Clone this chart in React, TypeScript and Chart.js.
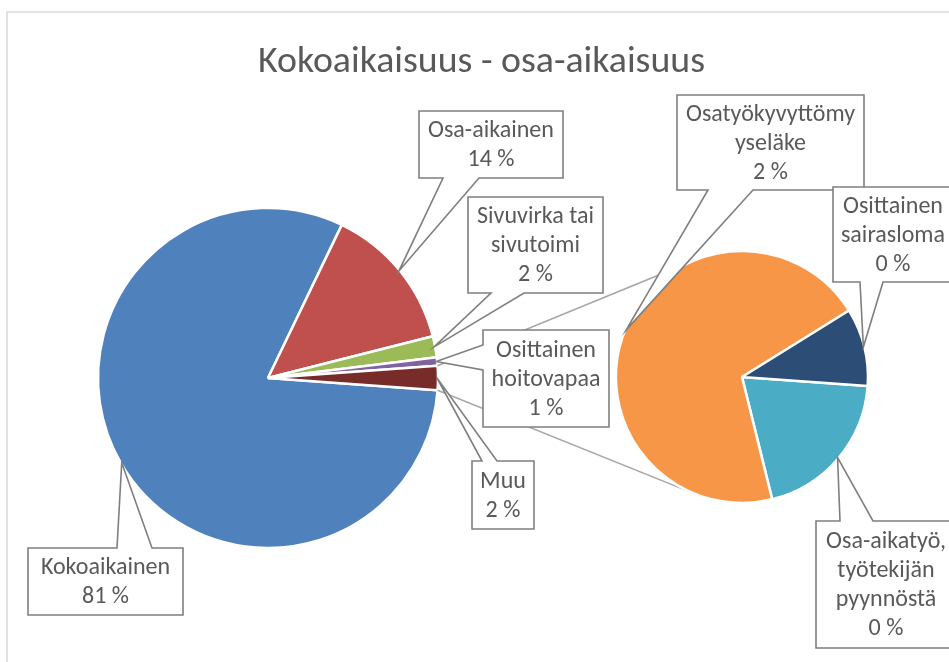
import React, { useEffect, useRef } from "react";
import { Chart, registerables } from "chart.js";

Chart.register(...registerables);

// ---------- data ----------
const TITLE = "Kokoaikaisuus - osa-aikaisuus";

const mainCategories = ["Kokoaikainen", "Osa-aikainen", "Sivuvirka tai sivutoimi", "Osittainen hoitovapaa"];
const mainValues = [81.0, 13.9, 2.0, 0.8];
const mainLabelLines = [["Kokoaikainen"], ["Osa-aikainen"], ["Sivuvirka tai", "sivutoimi"], ["Osittainen", "hoitovapaa"]];

const otherCategory = "Muu";
const otherLabelLines = ["Muu"];

const subCategories = ["Osa-aikatyö, työtekijän pyynnöstä", "Osatyökyvyttömyyseläke", "Osittainen sairasloma"];
const subValues = [0.46, 1.61, 0.23];
const subLabelLines = [["Osa-aikatyö,", "työtekijän", "pyynnöstä"], ["Osatyökyvyttömy", "yseläke"], ["Osittainen", "sairasloma"]];

const mainColors = ["#4F81BD", "#C0504D", "#9BBB59", "#8064A2", "#772C2A"];
const subColors = ["#4BACC6", "#F79646", "#2C4D75"];

// ---------- layout ----------
const W = 949;
const H = 662;
const MAIN_R = 170;
const SUB_R = 126;
const FONT = "Carlito, Calibri, Lato, 'Open Sans', sans-serif";
const TEXT_COLOR = "#595959";
const BOX_COLOR = "#7F7F7F";

type Box = { rect: [number, number, number, number]; side: "top" | "bottom" | "left" | "right"; base: [number, number] };

const mainBoxes: Box[] = [
  { rect: [28, 548, 183, 615], side: "top", base: [117, 152] },
  { rect: [419, 111, 563, 178], side: "bottom", base: [443, 479] },
  { rect: [468, 197, 603, 293], side: "bottom", base: [491, 524] },
  { rect: [483, 330, 609, 427], side: "left", base: [345, 370] },
  { rect: [472, 461, 534, 529], side: "top", base: [482, 497] },
];
const subBoxes: Box[] = [
  { rect: [816, 521, 956, 648], side: "top", base: [840, 873] },
  { rect: [677, 95, 864, 190], side: "bottom", base: [708, 753] },
  { rect: [833, 187, 953, 282], side: "bottom", base: [860, 883] },
];

const otherValue = subValues.reduce((a, b) => a + b, 0);
const total = mainValues.reduce((a, b) => a + b, 0) + otherValue;
const pct = (v: number) => `${Math.round((v / total) * 100)} %`;
const startRotation = 90 + (otherValue / total) * 180;

function drawCallout(ctx: CanvasRenderingContext2D, box: Box, tip: { x: number; y: number }, lines: string[], fontSize: number) {
  const [x1, y1, x2, y2] = box.rect;
  const [b1, b2] = box.base;
  ctx.save();
  ctx.beginPath();
  ctx.moveTo(x1, y1);
  if (box.side === "top") { ctx.lineTo(b1, y1); ctx.lineTo(tip.x, tip.y); ctx.lineTo(b2, y1); }
  ctx.lineTo(x2, y1);
  if (box.side === "right") { ctx.lineTo(x2, b1); ctx.lineTo(tip.x, tip.y); ctx.lineTo(x2, b2); }
  ctx.lineTo(x2, y2);
  if (box.side === "bottom") { ctx.lineTo(b2, y2); ctx.lineTo(tip.x, tip.y); ctx.lineTo(b1, y2); }
  ctx.lineTo(x1, y2);
  if (box.side === "left") { ctx.lineTo(x1, b2); ctx.lineTo(tip.x, tip.y); ctx.lineTo(x1, b1); }
  ctx.closePath();
  ctx.fillStyle = "#FFFFFF";
  ctx.fill();
  ctx.lineWidth = 1.6;
  ctx.strokeStyle = BOX_COLOR;
  ctx.lineJoin = "miter";
  ctx.stroke();
  ctx.fillStyle = TEXT_COLOR;
  ctx.font = `${fontSize}px ${FONT}`;
  ctx.textAlign = "center";
  ctx.textBaseline = "middle";
  const cx = (x1 + x2) / 2;
  const cy = (y1 + y2) / 2 + 1;
  const lh = 29;
  lines.forEach((t, i) => ctx.fillText(t, cx, cy + (i - (lines.length - 1) / 2) * lh));
  ctx.restore();
}

function arcTip(arc: any) {
  const mid = (arc.startAngle + arc.endAngle) / 2;
  const r = arc.outerRadius - 1;
  return { x: arc.x + Math.cos(mid) * r, y: arc.y + Math.sin(mid) * r };
}

export default function App() {
  const refA = useRef<HTMLCanvasElement>(null);
  const refB = useRef<HTMLCanvasElement>(null);

  useEffect(() => {
    const borderPlugin = {
      id: "chartBorder",
      beforeDraw(chart: any) {
        const ctx = chart.ctx;
        ctx.save();
        ctx.fillStyle = "#FFFFFF";
        ctx.fillRect(0, 0, W, H);
        ctx.strokeStyle = "#D9D9D9";
        ctx.lineWidth = 1.5;
        ctx.strokeRect(7, 12, 2000, 2000);
        ctx.restore();
      },
    };

    const chartA = new Chart(refA.current!, {
      type: "pie",
      data: {
        labels: [...mainCategories, otherCategory],
        datasets: [
          {
            data: [...mainValues, otherValue],
            backgroundColor: mainColors,
            borderColor: "#FFFFFF",
            borderWidth: 2.5,
          },
        ],
      },
      options: {
        responsive: false,
        animation: false,
        radius: MAIN_R,
        rotation: startRotation,
        layout: { padding: { left: 0, right: 413, top: 94, bottom: 0 } },
        events: [],
        plugins: { legend: { display: false }, tooltip: { enabled: false }, title: { display: false } },
      } as any,
      plugins: [borderPlugin],
    });

    const overlayPlugin = {
      id: "overlay",
      beforeDatasetsDraw(chart: any) {
        const ctx = chart.ctx;
        const metaA = chartA.getDatasetMeta(0);
        const other: any = metaA.data[metaA.data.length - 1];
        const sub: any = chart.getDatasetMeta(0).data[0];
        const C = { x: sub.x, y: sub.y };
        const r = sub.outerRadius;
        const corners = [other.startAngle, other.endAngle].map((a: number) => ({
          x: other.x + Math.cos(a) * other.outerRadius,
          y: other.y + Math.sin(a) * other.outerRadius,
        }));
        corners.sort((p, q) => p.y - q.y);
        ctx.save();
        ctx.strokeStyle = "#A6A6A6";
        ctx.lineWidth = 1.5;
        corners.forEach((P, i) => {
          const dx = C.x - P.x, dy = C.y - P.y;
          const d = Math.hypot(dx, dy);
          const phi = Math.atan2(dy, dx);
          const alpha = Math.asin(r / d);
          const L = Math.sqrt(d * d - r * r);
          const dir = i === 0 ? phi - alpha : phi + alpha;
          ctx.beginPath();
          ctx.moveTo(P.x, P.y);
          ctx.lineTo(P.x + Math.cos(dir) * L, P.y + Math.sin(dir) * L);
          ctx.stroke();
        });
        ctx.restore();
      },
      afterDraw(chart: any) {
        const ctx = chart.ctx;
        // title
        ctx.save();
        ctx.font = `40px ${FONT}`;
        const tw = ctx.measureText(TITLE).width;
        const ts = (40 * 447) / tw;
        ctx.font = `${ts}px ${FONT}`;
        ctx.fillStyle = TEXT_COLOR;
        ctx.textAlign = "center";
        ctx.textBaseline = "alphabetic";
        ctx.fillText(TITLE, 481.5, 71.5);
        // label font size fit
        ctx.font = `24px ${FONT}`;
        const mw = ctx.measureText("Osittainen").width;
        const fs = (24 * 100) / mw;
        ctx.restore();

        const metaA = chartA.getDatasetMeta(0);
        const allMainLines = [...mainLabelLines, otherLabelLines];
        const allMainValues = [...mainValues, otherValue];
        metaA.data.forEach((arc: any, i: number) => {
          drawCallout(ctx, mainBoxes[i], arcTip(arc), [...allMainLines[i], pct(allMainValues[i])], fs);
        });
        const metaB = chart.getDatasetMeta(0);
        metaB.data.forEach((arc: any, i: number) => {
          drawCallout(ctx, subBoxes[i], arcTip(arc), [...subLabelLines[i], pct(subValues[i])], fs);
        });
      },
    };

    const chartB = new Chart(refB.current!, {
      type: "pie",
      data: {
        labels: subCategories,
        datasets: [
          {
            data: subValues,
            backgroundColor: subColors,
            borderColor: "#FFFFFF",
            borderWidth: 2.5,
          },
        ],
      },
      options: {
        responsive: false,
        animation: false,
        radius: SUB_R,
        rotation: startRotation,
        layout: { padding: { left: 535, right: 0, top: 92, bottom: 0 } },
        events: [],
        plugins: { legend: { display: false }, tooltip: { enabled: false }, title: { display: false } },
      } as any,
      plugins: [overlayPlugin],
    });

    return () => {
      chartB.destroy();
      chartA.destroy();
    };
  }, []);

  const canvasStyle: React.CSSProperties = { position: "absolute", left: 0, top: 0, width: W, height: H };
  return (
    <div style={{ position: "absolute", left: 0, top: 0, width: W, height: H, overflow: "hidden", background: "#fff" }}>
      <canvas ref={refA} width={W} height={H} style={canvasStyle} />
      <canvas ref={refB} width={W} height={H} style={canvasStyle} />
    </div>
  );
}
